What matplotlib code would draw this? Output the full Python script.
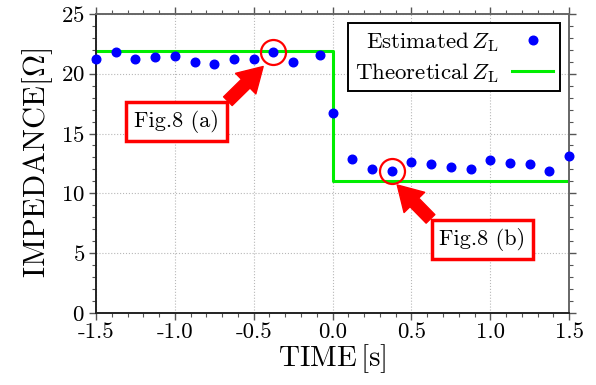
import matplotlib
matplotlib.use("Agg")
import matplotlib.pyplot as plt
from matplotlib.ticker import MultipleLocator

plt.rcParams['font.family'] = ['cmr10', 'DejaVu Serif']
plt.rcParams['mathtext.fontset'] = 'cm'
plt.rcParams['axes.formatter.use_mathtext'] = True

# 推定値 (Estimated Z_L)
time_est = [-1.5, -1.375, -1.25, -1.125, -1.0, -0.875, -0.75, -0.625, -0.5,
            -0.375, -0.25, -0.08, 0.0, 0.125, 0.25, 0.375, 0.5, 0.625, 0.75,
            0.875, 1.0, 1.125, 1.25, 1.375, 1.5]
z_est = [21.2, 21.85, 21.2, 21.43, 21.5, 21.0, 20.84, 21.2, 21.26,
         21.85, 21.0, 21.56, 16.69, 12.86, 12.04, 11.9, 12.66, 12.44, 12.21,
         12.07, 12.77, 12.55, 12.46, 11.87, 13.11]

# 理論値 (Theoretical Z_L)
time_theo = [-1.5, 0.0, 1.5]
z_theo = [21.9, 11.0, 11.0]

# 丸で囲む点のインデックス
mark_a = 9
mark_b = 15

x_ticks = [-1.5, -1.0, -0.5, 0.0, 0.5, 1.0, 1.5]
x_ticklabels = ['-1.5', '-1.0', '-0.5', '0.0', '0.5', '1.0', '1.5']
y_ticks = [0, 5, 10, 15, 20, 25]

fig = plt.figure(figsize=(5.96, 3.85), dpi=100)
ax = fig.add_axes([0.161, 0.187, 0.794, 0.777])

ax.step(time_theo, z_theo, where='post', color='#00ee00', lw=2.2,
        label=r'Theoretical$\,Z_{\mathrm{L}}$', zorder=2)
ax.plot(time_est, z_est, 'o', color='#0000ff', ms=6.2, clip_on=False,
        label=r'Estimated$\,Z_{\mathrm{L}}$', zorder=3)

# 赤丸
for i in (mark_a, mark_b):
    ax.plot(time_est[i], z_est[i], 'o', mfc='none', mec='#ff0000',
            ms=18, mew=1.6, zorder=4)

ax.set_xlim(-1.5, 1.5)
ax.set_ylim(0, 25)
ax.set_xticks(x_ticks)
ax.set_xticklabels(x_ticklabels)
ax.set_yticks(y_ticks)
ax.xaxis.set_minor_locator(MultipleLocator(0.1))
ax.yaxis.set_minor_locator(MultipleLocator(1))

ax.tick_params(which='both', direction='out', top=True, right=True,
               color='#555555', labelsize=16.5)
ax.tick_params(which='major', length=5, width=1)
ax.tick_params(which='minor', length=3, width=0.8)
ax.tick_params(axis='x', pad=2)
ax.tick_params(axis='y', pad=3)

ax.grid(True, which='major', linestyle=':', color='#b8b8b8', lw=0.8)
for side in ['left', 'bottom']:
    ax.spines[side].set_color('#222222')
    ax.spines[side].set_linewidth(1.4)
for side in ['right', 'top']:
    ax.spines[side].set_color('#666666')
    ax.spines[side].set_linewidth(1.4)

ax.set_xlabel(r'TIME$\,[\mathrm{s}]$', fontsize=21, labelpad=0)
ax.set_ylabel(r'IMPEDANCE$[\Omega]$', fontsize=22, labelpad=4)

handles, labels = ax.get_legend_handles_labels()
leg = ax.legend(handles[::-1], labels[::-1], loc='upper right', fontsize=16.5,
                markerfirst=False, fancybox=False, edgecolor='black',
                framealpha=1, borderaxespad=0.4, handlelength=1.8,
                labelspacing=0.3, borderpad=0.3, handletextpad=0.6)
leg.get_frame().set_linewidth(1.4)

# 注釈 Fig.8 (a), (b)
box = dict(boxstyle='square,pad=0.35', fc='white', ec='#ff0000', lw=2.5)
arrow = dict(arrowstyle='simple,head_width=1.3,head_length=1.1,tail_width=0.55',
             color='#ff0000', mutation_scale=16, shrinkA=0, shrinkB=0)

ax.annotate('Fig.8 (a)', xy=(-0.44, 20.6), xytext=(-0.99, 16.0),
            fontsize=16, ha='center', va='center', bbox=box,
            arrowprops=dict(arrow, relpos=(1.0, 1.0)), zorder=5)
ax.annotate('Fig.8 (b)', xy=(0.41, 10.7), xytext=(0.95, 6.15),
            fontsize=16, ha='center', va='center', bbox=box,
            arrowprops=dict(arrow, relpos=(0.0, 1.0)), zorder=5)

fig.savefig('out.png', dpi=100)
